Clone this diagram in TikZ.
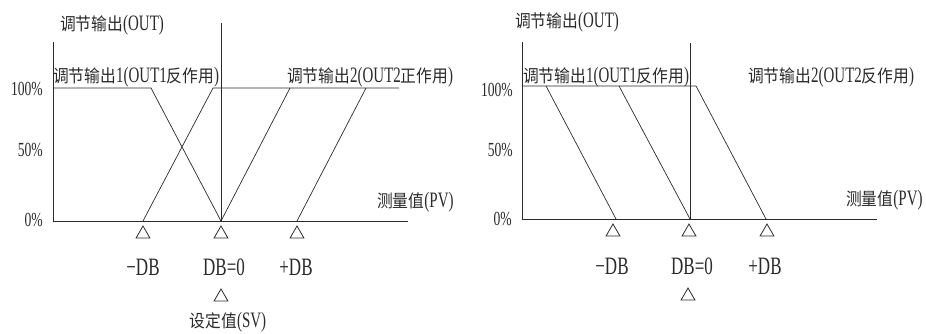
\documentclass[tikz,border=0pt]{standalone}
\usepackage{fontspec}
\setmainfont{Liberation Serif}[FakeStretch=0.68]
\newfontfamily\cjk{Noto Sans CJK SC}[FakeStretch=0.9]
\newcommand\zh[1]{{\cjk\fontsize{17.5}{20}\selectfont #1}}
\usetikzlibrary{shapes.geometric}
\definecolor{ink}{HTML}{2A2A2A}
\tikzset{
  lbl/.style={font=\fontsize{20}{22}\selectfont, inner sep=0pt, text=ink},
  zlbl/.style={font=\fontsize{22}{24}\selectfont, inner sep=0pt, text=ink},
  dblbl/.style={font=\fontsize{25}{27}\selectfont, inner sep=0pt, text=ink},
  axis/.style={draw=ink, line width=0.9pt},
  curve/.style={draw=ink, line width=0.7pt},
  tri/.style={draw=ink, line width=0.8pt, regular polygon, regular polygon sides=3, minimum size=16pt, inner sep=0pt}
}
\begin{document}
\begin{tikzpicture}[x=1pt,y=-1pt]
\useasboundingbox (0,0) rectangle (926,333);
% ---------- left chart ----------
\coordinate (LyT) at (53,42);
\coordinate (LO) at (53,221);
\coordinate (LxE) at (408,221);
\coordinate (LcT) at (221,23);
\coordinate (LcB) at (221,221);
\coordinate (La1) at (53,88);
\coordinate (La2) at (151,88);
\coordinate (Lb1) at (143,221);
\coordinate (Lb2) at (213,88);
\coordinate (Lb3) at (399,88);
\coordinate (Lc2) at (290,88);
\coordinate (Ld1) at (297,221);
\coordinate (Ld2) at (366,88);
\draw[axis] (LyT) -- (LO) -- (LxE);
\draw[axis] (LcT) -- (LcB);
\draw[curve] (La1) -- (La2) -- (LcB);
\draw[curve] (Lb1) -- (Lb2) -- (Lb3);
\draw[curve] (LcB) -- (Lc2);
\draw[curve] (Ld1) -- (Ld2);
\node[tri] (Lt1) at (143,234) {};
\node[tri] (Lt2) at (221,234) {};
\node[tri] (Lt3) at (297,234) {};
\node[tri] (Lt4) at (221,297) {};
\node[dblbl] (Lm) at (143,267) {−DB};
\node[dblbl] (Lz) at (224,267) {DB=0};
\node[dblbl] (Lp) at (296,267) {+DB};
\node[zlbl] (Lsv) at (228,322) {\zh{设定值}(SV)};
\node[zlbl, anchor=west] (Lpv) at (377,202) {\zh{测量值}(PV)};
\node[lbl, anchor=east] (L100) at (43,89) {100\%};
\node[lbl, anchor=east] (L50) at (43,150) {50\%};
\node[lbl, anchor=east] (L0) at (43,220) {0\%};
\node[zlbl, anchor=west] (Lout) at (60,25) {\zh{调节输出}(OUT)};
\node[zlbl, anchor=west] (Lo1) at (53,77) {\zh{调节输出}1(OUT1\zh{反作用})};
\node[zlbl, anchor=west] (Lo2) at (287,77) {\zh{调节输出}2(OUT2\zh{正作用})};
% ---------- right chart ----------
\coordinate (RyT) at (522,42);
\coordinate (RO) at (522,219);
\coordinate (RxE) at (877,219);
\coordinate (RcT) at (690,43);
\coordinate (RcB) at (690,219);
\coordinate (Ra2) at (696,86);
\coordinate (Ra3) at (766,219);
\coordinate (Ra1) at (522,86);
\coordinate (Rb1) at (546,86);
\coordinate (Rb2) at (616,219);
\coordinate (Rc1) at (619,86);
\draw[axis] (RyT) -- (RO) -- (RxE);
\draw[axis] (RcT) -- (RcB);
\draw[curve] (Ra1) -- (Ra2) -- (Ra3);
\draw[curve] (Rb1) -- (Rb2);
\draw[curve] (Rc1) -- (RcB);
\node[tri] (Rt1) at (613,232) {};
\node[tri] (Rt2) at (689,232) {};
\node[tri] (Rt3) at (767,232) {};
\node[tri] (Rt4) at (688,296) {};
\node[dblbl] (Rm) at (612,266) {−DB};
\node[dblbl] (Rz) at (692,266) {DB=0};
\node[dblbl] (Rp) at (765,266) {+DB};
\node[zlbl, anchor=west] (Rpv) at (846,200) {\zh{测量值}(PV)};
\node[lbl, anchor=east] (R100) at (513,90) {100\%};
\node[lbl, anchor=east] (R50) at (513,150) {50\%};
\node[lbl, anchor=east] (R0) at (512,219) {0\%};
\node[zlbl, anchor=west] (Rout) at (515,22) {\zh{调节输出}(OUT)};
\node[zlbl, anchor=west] (Ro1) at (523,77) {\zh{调节输出}1(OUT1\zh{反作用})};
\node[zlbl, anchor=west] (Ro2) at (748,77) {\zh{调节输出}2(OUT2\zh{反作用})};
\end{tikzpicture}
\end{document}
